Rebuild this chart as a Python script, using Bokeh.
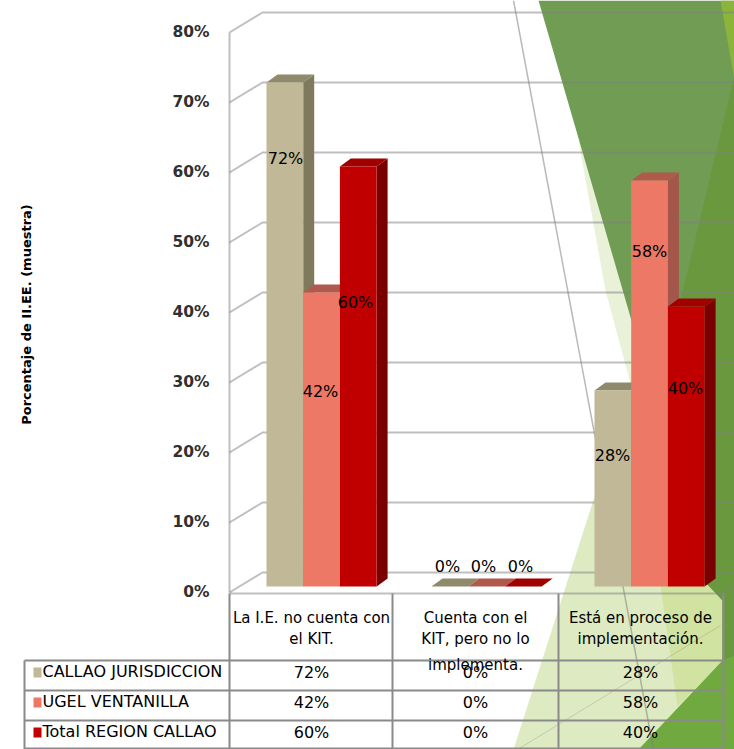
from math import pi
from bokeh.plotting import figure
from bokeh.models import ColumnDataSource
from bokeh.core.properties import value
from bokeh.embed import file_html
from bokeh.resources import INLINE

# ---------- data ----------
categories = [["La I.E. no cuenta con", "el KIT."],
              ["Cuenta con el", "KIT, pero no lo", "implementa."],
              ["Está en proceso de", "implementación."]]
series_names = ["CALLAO JURISDICCION", "UGEL VENTANILLA", "Total REGION CALLAO"]
callao = [72, 0, 28]
ugel = [42, 0, 58]
total = [60, 0, 40]
tick_values = [0, 10, 20, 30, 40, 50, 60, 70, 80]
y_title = "Porcentaje de II.EE. (muestra)"

# ---------- style ----------
front = ["#c0b896", "#ed7866", "#c00000"]
side = ["#7f7a5e", "#a4564a", "#7a0000"]
top = ["#8f8a6c", "#b05a4e", "#a00000"]
W, H = 734, 749
K = 7.0            # pixels per percentage point
Y0 = 592           # canvas row of 0 % on the front plane
FONT = value("DejaVu Sans")


def py(row):
    """canvas row to axis value"""
    return (Y0 - row) / K


p = figure(width=W, height=H, x_range=(0, W), y_range=(py(H), py(0)),
           toolbar_location=None, output_backend="svg", min_border=0,
           background_fill_color="white", border_fill_color="white",
           outline_line_color=None)
p.axis.visible = False
p.grid.visible = False

# ---------- theme decoration behind the chart ----------
bg = [
    ([578, 605, 640, 662], [140, 290, 420, 300], "#e9f1d9"),
    ([513, 597, 640, 722, 722, 640], [749, 487, 380, 600, 749, 749], "#deeac2"),
    ([660, 722, 722, 677], [585, 585, 660, 706], "#d0e3a0"),
    ([538, 708, 722, 722, 734, 734], [0, 585, 600, 660, 660, 0], "#719c54"),
    ([734, 680, 650, 708, 722, 722, 734], [75, 300, 560, 585, 600, 660, 660], "#6a983f"),
    ([720, 734, 734], [0, 80, 0], "#8ab53a"),
    ([638, 722, 734, 734], [749, 660, 655, 749], "#70a93f"),
]
for xs, rows, c in bg:
    p.patch(xs, [py(r) for r in rows], fill_color=c, line_color=None)
p.line([513, 653], [py(0), py(749)], line_color="#808080", line_alpha=0.55, line_width=1.5)
p.line([517, 720], [py(749), py(625)], line_color="#808080", line_alpha=0.3, line_width=1)

# ---------- walls and gridlines ----------
GRID = dict(line_color="#808080", line_alpha=0.5, line_width=2)
BX, BD = 33, 20 / K   # depth of the chart box
for v in tick_values:
    p.line([229, 262, W], [v, v + BD, v + BD], **GRID)
p.line([229, 229], [0, 80], **GRID)
p.line([229, 723, W], [py(593), py(593), py(585)], **GRID)

# ---------- bars ----------
group_left = [266, 431, 594]
bar_w = 36.7
DX, DY = 11, 8 / K
base = py(586)
for s, vals in enumerate([callao, ugel, total]):
    lefts = [g + s * bar_w for g in group_left]
    rights = [l + bar_w for l in lefts]
    tops = [base + v for v in vals]
    for i in range(3):
        l, r, t = lefts[i], rights[i], tops[i]
        if vals[i] > 0:
            p.patch([r, r + DX, r + DX, r], [base, base + DY, t + DY, t],
                    fill_color=side[s], line_color=None)
        p.patch([l, l + DX, r + DX, r], [t, t + DY, t + DY, t],
                fill_color=top[s], line_color=None)
    nonzero = [i for i in range(3) if vals[i] > 0]
    src = ColumnDataSource(dict(l=[lefts[i] for i in nonzero], r=[rights[i] for i in nonzero],
                                t=[tops[i] for i in nonzero], b=[base] * len(nonzero)))
    p.quad(left="l", right="r", top="t", bottom="b", source=src,
           fill_color=front[s], line_color=None)

# ---------- table ----------
TBL = dict(line_color="#8a8a8a", line_width=2)
col_x = [229, 392, 558, 723]
row_y = [660, 690, 720, 748]
for r in row_y:
    p.line([24, 723], [py(r), py(r)], **TBL)
p.line([24, 24], [py(660), py(749)], **TBL)
for x in col_x:
    p.line([x, x], [py(593), py(749)], **TBL)

# ---------- texts ----------
TXT = dict(text_font=FONT, text_baseline="middle", text_color="#000000")
# value axis
p.text([209] * len(tick_values), [v + 0.1 for v in tick_values],
       text=[f"{v}%" for v in tick_values], text_align="right",
       text_font_size="15.5px", text_font_style="bold",
       **{**TXT, "text_color": "#303030"})
# axis title
p.text([26], [py(314)], text=[y_title], angle=pi / 2, text_align="center",
       text_font_size="13px", text_font_style="bold", **TXT)
# data labels, placed as in the picture
label_x = [[285, 447, 612], [320, 483, 649], [355, 520, 685]]
label_row = [[158, 566, 455], [391, 566, 251], [302, 566, 388]]
for vals, xs, rows in zip([callao, ugel, total], label_x, label_row):
    p.text(xs, [py(r) for r in rows], text=[f"{v}%" for v in vals], text_align="center",
           text_font_size="16px", **TXT)
# category labels
cat_x = [311, 475, 640]
cat_rows = [617, 638, 664]
for x, lines in zip(cat_x, categories):
    p.text([x] * len(lines), [py(r) for r in cat_rows[:len(lines)]], text=lines,
           text_align="center", text_font_size="15px", **TXT)
# table rows
row_c = [672, 702, 732]
for name, vals, r, c in zip(series_names, [callao, ugel, total], row_c, front):
    p.quad(left=[33], right=[41], top=[py(r - 5)], bottom=[py(r + 5)],
           fill_color=c, line_color=None)
    p.text([42], [py(r - 1)], text=[name], text_align="left", text_font_size="16px", **TXT)
    p.text([x for x in cat_x], [py(r)] * 3, text=[f"{v}%" for v in vals],
           text_align="center", text_font_size="16px", **TXT)

open("out.html", "w").write(file_html(p, INLINE))
